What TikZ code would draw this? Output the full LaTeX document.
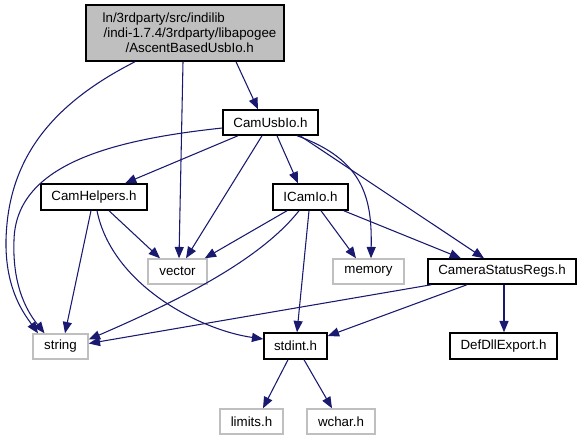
\documentclass[tikz,border=0pt]{standalone}
\usepackage{fontspec}
\setmainfont{Liberation Sans}
\usetikzlibrary{arrows.meta,calc}
\definecolor{edgeblue}{RGB}{25,25,112}
\definecolor{lgray}{RGB}{191,191,191}
\begin{document}
\begin{tikzpicture}[x=0.75pt,y=-0.75pt,
  font=\fontsize{10}{11.25}\selectfont,
  hbox/.style={draw=black,line width=1.1pt,fill=white,inner sep=0pt},
  gbox/.style={draw=lgray,line width=1.1pt,fill=white,inner sep=0pt},
  bw/.style={minimum width=#1*0.75pt},
  bh/.style={minimum height=#1*0.75pt},
  edge/.style={draw=edgeblue,line width=0.8pt,-{Triangle[length=8.5pt,width=6.8pt]}}
]
\useasboundingbox (0,0) rectangle (584,440);
\node[hbox,fill=lgray,bw=198,bh=56,align=left] (top) at (185,33)
  {\hspace*{6.75pt}ln/3rdparty/src/indilib\\
   \hspace*{7.5pt}/indi-1.7.4/3rdparty/libapogee\\
   \hspace*{24pt}/AscentBasedUsbIo.h};
\node[hbox,bw=95,bh=25] (cam) at (270.5,122.5) {CamUsbIo.h};
\node[hbox,bw=106,bh=26] (helpers) at (94,197) {CamHelpers.h};
\node[hbox,bw=75,bh=26] (icamio) at (310.5,197) {ICamIo.h};
\node[gbox,bw=59,bh=25] (vector) at (177.5,271.5) {vector};
\node[gbox,bw=71,bh=25] (memory) at (368.5,271.5) {memory};
\node[hbox,bw=148,bh=25] (csr) at (502,271.5) {CameraStatusRegs.h};
\node[gbox,bw=55,bh=25] (string) at (60.5,346.5) {string};
\node[hbox,bw=63,bh=26] (stdint) at (295.5,346) {stdint.h};
\node[hbox,bw=107,bh=26] (defdll) at (503.5,346) {DefDllExport.h};
\node[gbox,bw=63,bh=25] (limits) at (251.5,421.5) {limits.h};
\node[gbox,bw=68,bh=25] (wchar) at (341,421.5) {wchar.h};

% from top
\draw[edge] ($(top.south)+(-50,0)$) .. controls (50,105) and (8,160) .. (6,240)
   .. controls (5,290) and (25,315) .. ($(string.north)+(-22.5,0)$);
\draw[edge] ($(top.south)+(-2,0)$) -- ($(vector.north)+(1.5,0)$);
\draw[edge] ($(top.south)+(51,0)$) -- ($(cam.north)+(-12.5,0)$);
% from CamUsbIo
\draw[edge] ($(cam.west)+(0,5.5)$) .. controls (110,140) and (16,165) .. (14,240)
   .. controls (12,290) and (30,315) .. ($(string.north)+(-16,0)$);
\draw[edge] ($(cam.south)+(-32.5,0)$) -- ($(helpers.north)+(31,0)$);
\draw[edge] ($(cam.south)+(-8.5,0)$) -- ($(vector.north)+(8.5,0)$);
\draw[edge] ($(cam.south)+(6.5,0)$) -- ($(icamio.north)+(-12.5,0)$);
\draw[edge] ($(cam.south)+(26.5,0)$) .. controls (365,160) and (372,200) .. ($(memory.north)+(2.5,0)$);
\draw[edge] ($(cam.south)+(29.5,0)$) -- ($(csr.north)+(-18,0)$);
% from CamHelpers
\draw[edge] ($(helpers.south)+(-3,0)$) -- ($(string.north)+(4.5,0)$);
\draw[edge] ($(helpers.south)+(15,0)$) -- ($(vector.north)+(-17.5,0)$);
\draw[edge] ($(helpers.south)+(3,0)$) .. controls (112,285) and (200,330) .. ($(stdint.west)+(0,-7)$);
% from ICamIo
\draw[edge] ($(icamio.south)+(-23.5,0)$) -- ($(vector.north east)+(-3,0)$);
\draw[edge] ($(icamio.south)+(-11.5,0)$) .. controls (260,260) and (180,300) .. ($(string.east)+(0,-7)$);
\draw[edge] ($(icamio.south)+(-1.5,0)$) -- ($(stdint.north)+(1.5,0)$);
\draw[edge] ($(icamio.south)+(10.5,0)$) -- ($(memory.north)+(-12.5,0)$);
\draw[edge] ($(icamio.south east)+(-5,0)$) -- ($(csr.north)+(-41,0)$);
% from CameraStatusRegs
\draw[edge] ($(csr.south west)+(4,0)$) -- ($(string.east)+(0,-3)$);
\draw[edge] ($(csr.south)+(-35,0)$) -- ($(stdint.east)+(0,-10)$);
\draw[edge] ($(csr.south)+(2,0)$) -- ($(defdll.north)+(0.5,0)$);
% from stdint
\draw[edge] ($(stdint.south)+(-7.5,0)$) -- ($(limits.north)+(11.5,0)$);
\draw[edge] ($(stdint.south)+(8.5,0)$) -- ($(wchar.north)+(-9,0)$);
\end{tikzpicture}
\end{document}
